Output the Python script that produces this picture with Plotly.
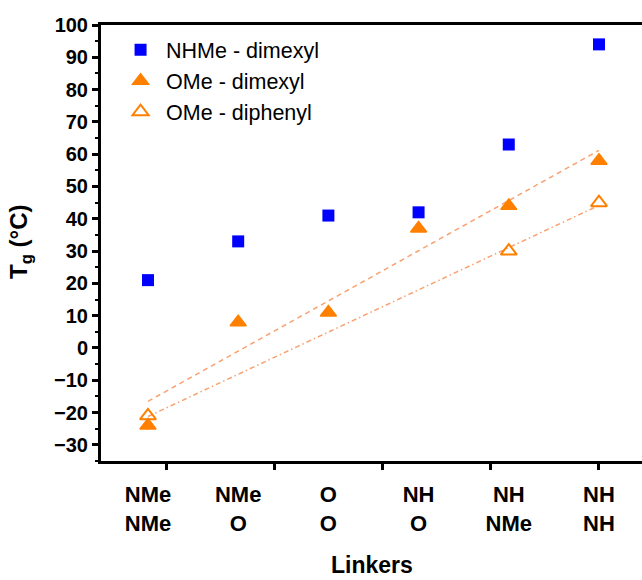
import numpy as np
import plotly.graph_objects as go

# ---- data ----
categories = ["NMe<br>NMe", "NMe<br>O", "O<br>O", "NH<br>O", "NH<br>NMe", "NH<br>NH"]
x_pos = [1, 2, 3, 4, 5, 6]
nhme_dimexyl = [21, 33, 41, 42, 63, 94]
ome_dimexyl = [-24, 8, 11, 37, 44, 58]
ome_diphenyl_x = [1, 5, 6]
ome_diphenyl = [-21, 30, 45]
y_ticks = list(range(-30, 101, 10))

BLUE = "#0000FF"
ORANGE = "#FF8000"
FIT = "#F8A272"
FONT = "Arial, Liberation Sans, sans-serif"

W, H = 642, 580
L, R, T, B = 101, 0, 25, 119
XR = [0.479, 6.477]
YR = [-35, 100]

fig = go.Figure()

# linear fits computed from the data
p1 = np.polyfit(x_pos, ome_dimexyl, 1)
fx = np.array([x_pos[0], x_pos[-1]])
fig.add_trace(go.Scatter(x=fx, y=np.polyval(p1, fx), mode="lines",
                         line=dict(color=FIT, width=1.5, dash="5px,4px"),
                         showlegend=False, hoverinfo="skip"))
p2 = np.polyfit(ome_diphenyl_x, ome_diphenyl, 1)
fx2 = np.array([ome_diphenyl_x[0], ome_diphenyl_x[-1]])
fig.add_trace(go.Scatter(x=fx2, y=np.polyval(p2, fx2), mode="lines",
                         line=dict(color=FIT, width=1.5, dash="5px,3px,1.5px,3px"),
                         showlegend=False, hoverinfo="skip"))

fig.add_trace(go.Scatter(x=x_pos, y=nhme_dimexyl, mode="markers", name="NHMe - dimexyl",
                         marker=dict(symbol="square", size=12, color=BLUE,
                                     line=dict(width=0))))
fig.add_trace(go.Scatter(x=x_pos, y=ome_dimexyl, mode="markers", name="OMe - dimexyl",
                         marker=dict(symbol="triangle-up", size=14, color=ORANGE,
                                     line=dict(width=1.5, color=ORANGE))))
fig.add_trace(go.Scatter(x=ome_diphenyl_x, y=ome_diphenyl, mode="markers", name="OMe - diphenyl",
                         marker=dict(symbol="triangle-up-open", size=14, color=ORANGE,
                                     line=dict(width=2, color=ORANGE))))

# invisible trace to activate the tick-mark axis
fig.add_trace(go.Scatter(x=[XR[0]], y=[YR[0]], xaxis="x2", mode="markers",
                         marker=dict(opacity=0), showlegend=False, hoverinfo="skip"))

fig.update_layout(
    width=W, height=H,
    margin=dict(l=L, r=R, t=T, b=B),
    paper_bgcolor="white", plot_bgcolor="white",
    font=dict(family=FONT, color="black"),
    showlegend=True,
    legend=dict(x=0.026, y=0.99, xanchor="left", yanchor="top",
                bgcolor="rgba(0,0,0,0)", borderwidth=0,
                font=dict(size=21.5, family=FONT), itemwidth=41,
                tracegroupgap=0),
    xaxis=dict(range=XR, showgrid=False, zeroline=False,
               showline=True, linewidth=3, linecolor="black", mirror=True,
               tickmode="array", tickvals=x_pos, ticktext=categories,
               ticks="", ticklabelstandoff=12,
               tickfont=dict(size=22, family=FONT, weight="bold")),
    xaxis2=dict(range=XR, overlaying="x", side="bottom", showgrid=False,
                zeroline=False, showline=False, tick0=0, dtick=1.2,
                ticks="outside", ticklen=8, tickwidth=2.5, tickcolor="black",
                showticklabels=False),
    yaxis=dict(range=YR, showgrid=False, zeroline=False,
               showline=True, linewidth=3, linecolor="black",
               tickmode="array", tickvals=y_ticks,
               ticks="outside", ticklen=6, tickwidth=2.5, tickcolor="black",
               minor=dict(dtick=5, tick0=0, ticks="outside", ticklen=3,
                          tickwidth=2, tickcolor="black"),
               tickfont=dict(size=20, family=FONT, weight="bold")),
    annotations=[
        dict(text="T<sub>g</sub> (°C)", xref="paper", yref="paper",
             x=(21 - L) / (W - L - R), y=(H - B - 242) / (H - T - B), textangle=-90,
             xanchor="center", yanchor="middle", showarrow=False,
             font=dict(size=24, family=FONT, weight="bold")),
        dict(text="Linkers", xref="paper", yref="paper",
             x=0.5, y=(H - B - 565) / (H - T - B),
             xanchor="center", yanchor="middle", showarrow=False,
             font=dict(size=23, family=FONT, weight="bold")),
    ],
)

fig.write_html("out.html")
